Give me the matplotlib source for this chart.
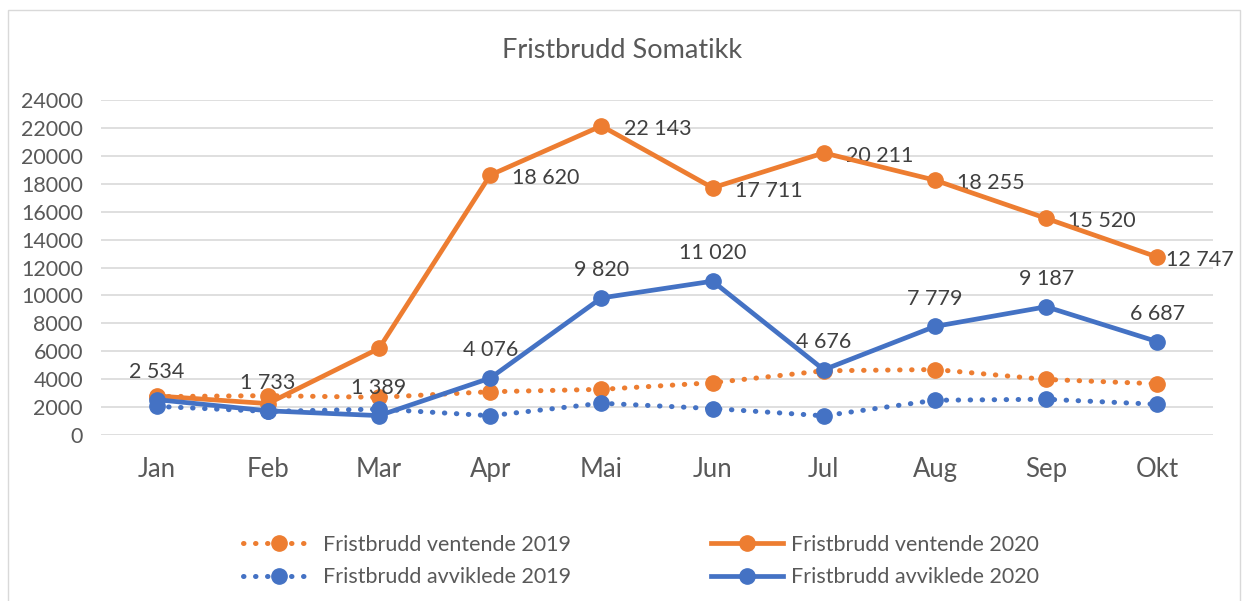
import matplotlib.pyplot as plt
from matplotlib.patches import Rectangle

plt.rcParams['font.family'] = ['Lato', 'DejaVu Sans']

# chart data
months = ["Jan", "Feb", "Mar", "Apr", "Mai", "Jun", "Jul", "Aug", "Sep", "Okt"]
ventende_2019 = [2750, 2820, 2700, 3100, 3270, 3745, 4600, 4690, 3980, 3670]
ventende_2020 = [2800, 2250, 6200, 18620, 22143, 17711, 20211, 18255, 15520, 12747]
avviklede_2019 = [2050, 1690, 1855, 1383, 2275, 1897, 1375, 2490, 2560, 2200]
avviklede_2020 = [2534, 1733, 1389, 4076, 9820, 11020, 4676, 7779, 9187, 6687]
yticks = list(range(0, 24001, 2000))

ORANGE = "#ED7D31"
BLUE = "#4472C4"
TXT = "#595959"

def fmt(v):
    return "{:,}".format(v).replace(",", " ")

fig = plt.figure(figsize=(12.44, 6.01), dpi=100)
fig.patches.append(Rectangle((8 / 1244, -0.01), 1232 / 1244, 1 - 10 / 601 + 0.01,
                             transform=fig.transFigure, fill=False,
                             edgecolor="#d9d9d9", linewidth=1))
ax = fig.add_axes([101 / 1244, 1 - 435 / 601, 1112 / 1244, 335 / 601])

x = list(range(len(months)))
dot = (0, (0.1, 2.3))
l1, = ax.plot(x, ventende_2019, color=ORANGE, lw=3.6, ls=dot, dash_capstyle="round",
              marker="o", ms=11, zorder=3)
l2, = ax.plot(x, ventende_2020, color=ORANGE, lw=3.4, marker="o", ms=11, zorder=4)
l3, = ax.plot(x, avviklede_2019, color=BLUE, lw=3.6, ls=dot, dash_capstyle="round",
              marker="o", ms=11, zorder=5)
l4, = ax.plot(x, avviklede_2020, color=BLUE, lw=3.4, marker="o", ms=11, zorder=6)

# labels on the 2020 series (from April on for ventende)
for i in range(3, len(months)):
    dx = 6 if i == len(months) - 1 else 16
    ax.annotate(fmt(ventende_2020[i]), (i, ventende_2020[i]), xytext=(dx, -2),
                textcoords="offset points", ha="left", va="center",
                fontsize=15.5, color="#404040")
for i in range(len(months)):
    ax.annotate(fmt(avviklede_2020[i]), (i, avviklede_2020[i]), xytext=(0, 20),
                textcoords="offset points", ha="center", va="center",
                fontsize=15.5, color="#404040")

ax.set_xlim(-0.5, len(months) - 0.5)
ax.set_ylim(0, 24000)
ax.set_yticks(yticks)
ax.set_yticklabels([str(t) for t in yticks], fontsize=15.5, color=TXT)
ax.set_xticks(x)
ax.set_xticklabels(months, fontsize=18.5, color=TXT)
ax.tick_params(axis="both", length=0)
ax.tick_params(axis="x", pad=16)
ax.tick_params(axis="y", pad=13)
ax.grid(axis="y", color="#d9d9d9", lw=1.2)
ax.set_axisbelow(True)
for s in ax.spines.values():
    s.set_visible(False)

fig.text(0.5, 1 - 50 / 601, "Fristbrudd Somatikk", ha="center", va="center",
         fontsize=19.5, color=TXT)

fig.legend([l1, l3, l2, l4],
           ["Fristbrudd ventende 2019", "Fristbrudd avviklede 2019",
            "Fristbrudd ventende 2020", "Fristbrudd avviklede 2020"],
           ncol=2, loc="center", bbox_to_anchor=(0.515, 1 - 561 / 601),
           frameon=False, fontsize=15.5, labelcolor=TXT, handlelength=3.35,
           columnspacing=6.5, handletextpad=0.37, labelspacing=0.6)

fig.savefig("out.png", dpi=100)
